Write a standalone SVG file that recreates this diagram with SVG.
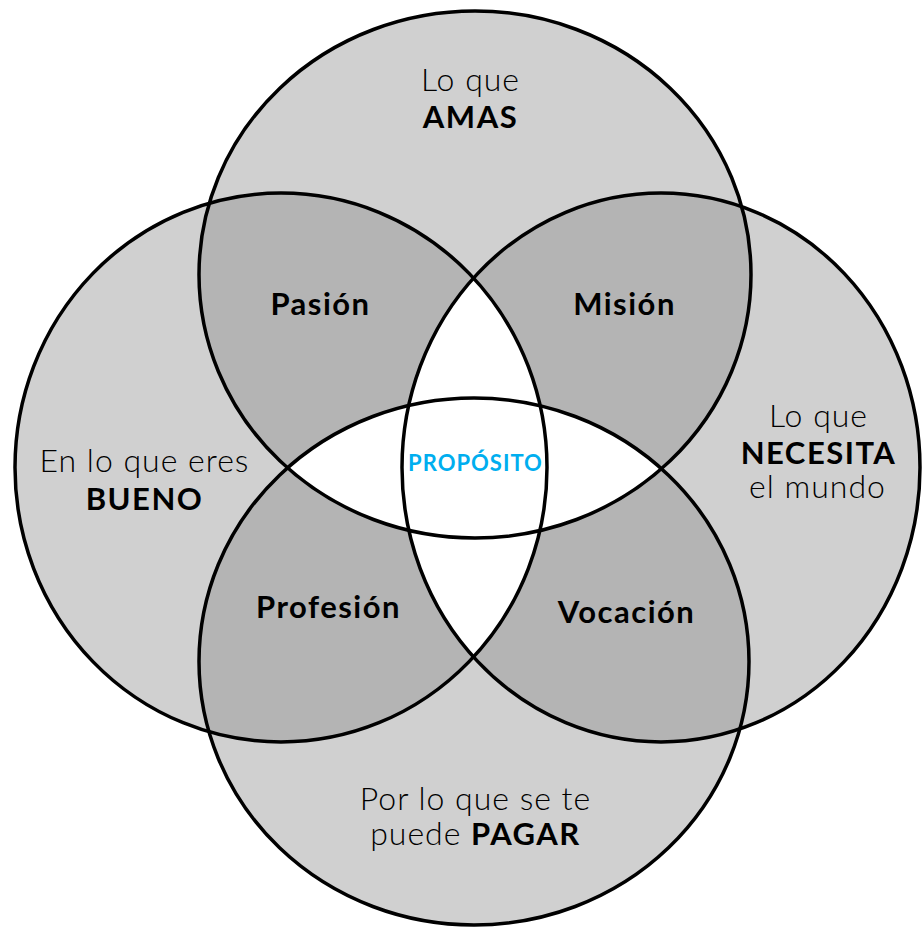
<svg xmlns="http://www.w3.org/2000/svg" width="924" height="929" viewBox="0 0 924 929">
  <style>
    .single { fill: #d0d0d0; }
    .double { fill: #b4b4b4; }
    .triple { fill: #ffffff; }
    .edge { fill: none; stroke: #000; stroke-width: 3.5; }
    text { font-family: Lato, "Open Sans", "Liberation Sans", sans-serif; text-anchor: middle; fill: #000; }
    .lt { font-size: 32px; font-weight: 300; letter-spacing: 1px; }
    .bd { font-size: 31px; font-weight: 700; letter-spacing: 1.5px; }
    .ov { font-size: 31px; font-weight: 700; letter-spacing: 1.5px; }
    .pp { font-size: 22px; font-weight: 700; letter-spacing: 1px; fill: #00aeef; }
  </style>
  <defs>
    <ellipse id="eTop" cx="475" cy="274.5" rx="276" ry="263.5"/>
    <ellipse id="eBottom" cx="474" cy="661.5" rx="275" ry="263.5"/>
    <ellipse id="eLeft" cx="281" cy="467.5" rx="266" ry="274.5"/>
    <ellipse id="eRight" cx="661" cy="467.5" rx="259" ry="274.5"/>
    <clipPath id="cTop"><use href="#eTop"/></clipPath>
    <clipPath id="cBottom"><use href="#eBottom"/></clipPath>
    <clipPath id="cLeft"><use href="#eLeft"/></clipPath>
    <clipPath id="cRight"><use href="#eRight"/></clipPath>
  </defs>
  <rect width="924" height="929" fill="#ffffff"/>

  <g id="fills">
    <use href="#eTop" class="single"/>
    <use href="#eBottom" class="single"/>
    <use href="#eLeft" class="single"/>
    <use href="#eRight" class="single"/>
    <g clip-path="url(#cLeft)"><use href="#eTop" class="double"/></g>
    <g clip-path="url(#cRight)"><use href="#eTop" class="double"/></g>
    <g clip-path="url(#cLeft)"><use href="#eBottom" class="double"/></g>
    <g clip-path="url(#cRight)"><use href="#eBottom" class="double"/></g>
    <g clip-path="url(#cBottom)"><use href="#eTop" class="triple"/></g>
    <g clip-path="url(#cRight)"><use href="#eLeft" class="triple"/></g>
  </g>

  <g id="circle-amas">
    <use href="#eTop" class="edge"/>
    <text class="lt" x="470.5" y="91">Lo que</text>
    <text class="bd" x="470.5" y="128">AMAS</text>
  </g>
  <g id="circle-bueno">
    <use href="#eLeft" class="edge"/>
    <text class="lt" x="144.5" y="472">En lo que eres</text>
    <text class="bd" x="144.5" y="510">BUENO</text>
  </g>
  <g id="circle-necesita">
    <use href="#eRight" class="edge"/>
    <text class="lt" x="818.5" y="427">Lo que</text>
    <text class="bd" x="818.5" y="464">NECESITA</text>
    <text class="lt" x="817.5" y="498">el mundo</text>
  </g>
  <g id="circle-pagar">
    <use href="#eBottom" class="edge"/>
    <text class="lt" x="475.5" y="810">Por lo que se te</text>
    <text class="lt" x="475.5" y="845">puede <tspan class="bd">PAGAR</tspan></text>
  </g>

  <g id="pasion"><text class="ov" x="320.5" y="315">Pasión</text></g>
  <g id="mision"><text class="ov" x="624.5" y="315">Misión</text></g>
  <g id="profesion"><text class="ov" x="328.5" y="618">Profesión</text></g>
  <g id="vocacion"><text class="ov" x="626.5" y="623">Vocación</text></g>
  <g id="proposito"><text class="pp" x="475.5" y="471">PROPÓSITO</text></g>
</svg>
